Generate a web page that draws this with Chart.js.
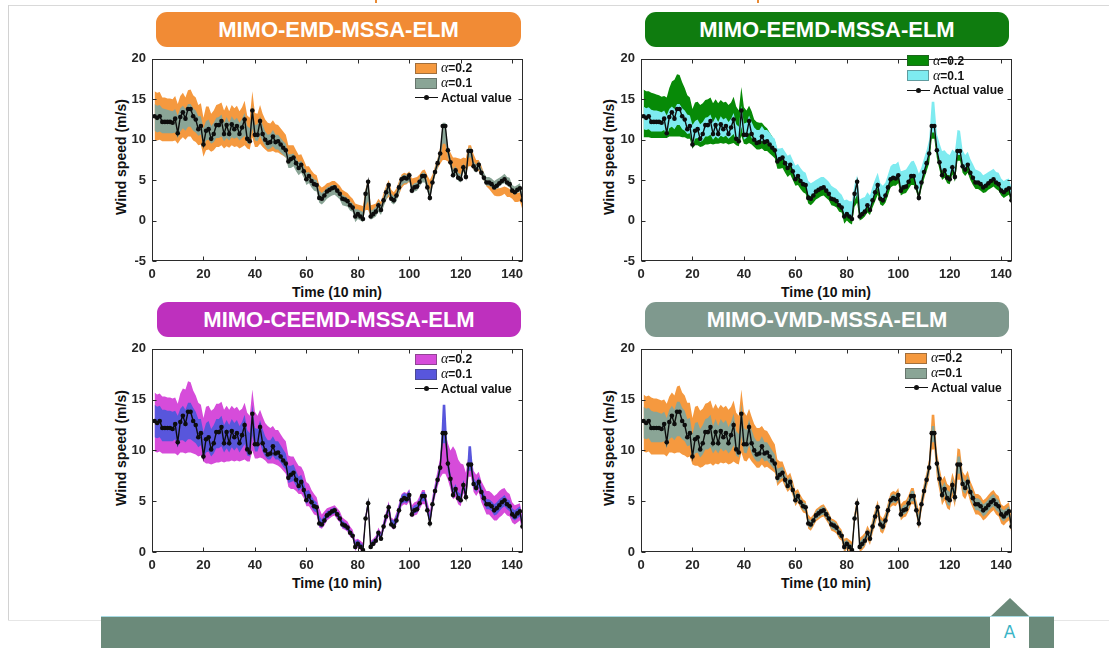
<!DOCTYPE html>
<html>
<head>
<meta charset="utf-8">
<script src="https://cdn.jsdelivr.net/npm/chart.js@4.4.1/dist/chart.umd.min.js"></script>
<style>
  html, body { margin: 0; padding: 0; background: #fff; }
  body { width: 1109px; height: 648px; position: relative; overflow: hidden;
         font-family: "Liberation Sans", Arial, sans-serif; }
  .line { position: absolute; background: #d9d9d9; }
  .banner { position: absolute; height: 35px; border-radius: 11px; color: #fff; font-weight: bold;
            font-size: 22px; line-height: 36px; text-align: center; z-index: 2; }
  canvas { position: absolute; z-index: 1; }
  .ytitle { position: absolute; font-weight: bold; font-size: 14px; color: #111; white-space: nowrap;
            transform: translate(-50%, -50%) rotate(-90deg); }
  .xtitle { position: absolute; font-weight: bold; font-size: 14px; color: #111; white-space: nowrap;
            transform: translate(-50%, -50%); }
  .legend { position: absolute; z-index: 3; }
  .legend .row { position: absolute; left: 0; height: 0; white-space: nowrap; }
  .legend .sw { position: absolute; left: 0; top: -5.5px; width: 22px; height: 11px; box-sizing: border-box;
                border: 1px solid rgba(60,60,60,0.45); }
  .legend .ln { position: absolute; left: 0; top: -0.5px; width: 23px; height: 1.4px; background: #111; }
  .legend .dot { position: absolute; left: 9px; top: -2.5px; width: 5px; height: 5px; border-radius: 50%; background: #111; }
  .legend .lbl { position: absolute; left: 26px; top: -8px; line-height: 16px; font-size: 12px; font-weight: bold; color: #111; }
  .legend .al { font-family: "Liberation Serif", "DejaVu Serif", serif; font-style: italic; font-weight: normal; font-size: 14px; }
  .bar { position: absolute; left: 101px; top: 616px; width: 953px; height: 32px; background: #6b8a7a;
         border-top: 1px solid #a8dbe3; box-sizing: border-box; }
  .tab { position: absolute; left: 990px; top: 617px; width: 39px; height: 31px; background: #fff; color: #3ab4c6;
         font-family: "DejaVu Sans", sans-serif; font-size: 17px; text-align: center; line-height: 31px; }
  .tri { position: absolute; left: 991px; top: 598px; width: 0; height: 0; border-left: 19px solid transparent;
         border-right: 19px solid transparent; border-bottom: 18px solid #6b8a7a; }
  .mark { position: absolute; top: 0; width: 2px; height: 3px; background: #e98a34; }
</style>
</head>
<body>
<div class="line" style="left:8px;top:5px;width:1101px;height:1px;"></div>
<div class="line" style="left:8px;top:5px;width:1px;height:616px;background:#d2d2d2;"></div>
<div class="line" style="left:8px;top:620px;width:1101px;height:1px;background:#e6e6e6;"></div>
<div class="mark" style="left:375px;"></div>
<div class="mark" style="left:757px;"></div>

<div class="banner" style="left:156px;top:12px;width:365px;background:#f18b35;">MIMO-EMD-MSSA-ELM</div>
<div class="banner" style="left:645px;top:12px;width:364px;background:#0f7c0f;">MIMO-EEMD-MSSA-ELM</div>
<div class="banner" style="left:157px;top:302px;width:364px;background:#be30be;">MIMO-CEEMD-MSSA-ELM</div>
<div class="banner" style="left:645px;top:302px;width:364px;background:#7f998e;">MIMO-VMD-MSSA-ELM</div>

<canvas id="c1" width="430" height="260" style="left:100px;top:45px;"></canvas>
<canvas id="c2" width="430" height="260" style="left:588.5px;top:45px;"></canvas>
<canvas id="c3" width="430" height="261" style="left:100px;top:335px;"></canvas>
<canvas id="c4" width="430" height="261" style="left:588.5px;top:335px;"></canvas>

<div class="ytitle" style="left:121px;top:157px;">Wind speed (m/s)</div>
<div class="ytitle" style="left:609px;top:157px;">Wind speed (m/s)</div>
<div class="ytitle" style="left:121px;top:448px;">Wind speed (m/s)</div>
<div class="ytitle" style="left:609px;top:448px;">Wind speed (m/s)</div>
<div class="xtitle" style="left:337px;top:292px;">Time (10 min)</div>
<div class="xtitle" style="left:826px;top:292px;">Time (10 min)</div>
<div class="xtitle" style="left:337px;top:583px;">Time (10 min)</div>
<div class="xtitle" style="left:826px;top:583px;">Time (10 min)</div>

<div class="bar"></div>
<div class="tri"></div>
<div class="tab">A</div>

<script>
// Measured wind speed, one value every 10 minutes (144 steps)
const actual = [
  12.9, 12.7, 12.9, 12.2, 12.2, 12.2, 12.2, 12.1, 12.6, 10.8,
  12.8, 13.4, 12.6, 13.8, 13.8, 12.9, 12.5, 11.3, 11.7, 9.4,
  11.1, 11.3, 10.1, 10.7, 11.8, 11.8, 12.3, 10.7, 11.8, 10.7,
  11.9, 11.3, 11.7, 10.7, 11.5, 12.5, 10.1, 9.8, 13.6, 10.6,
  10.6, 12.3, 10.7, 10.0, 9.6, 9.7, 10.4, 9.7, 9.8, 9.4,
  9.0, 8.7, 7.3, 7.6, 7.8, 7.1, 6.5, 6.9, 6.1, 5.1,
  5.5, 4.9, 4.5, 4.4, 2.8, 2.7, 3.1, 3.6, 3.8, 4.0,
  4.1, 3.7, 3.3, 2.7, 2.6, 2.4, 1.9, 1.6, 0.5, 0.8,
  0.5, 0.2, 3.3, 4.8, 0.5, 0.8, 1.1, 1.9, 1.3, 2.5,
  3.5, 4.4, 2.7, 2.5, 3.1, 4.1, 5.1, 5.3, 5.2, 5.6,
  3.7, 4.1, 4.2, 4.8, 5.5, 5.5, 4.1, 2.8, 4.7, 6.0,
  7.1, 8.3, 11.7, 11.7, 8.7, 7.2, 5.6, 6.2, 5.3, 5.1,
  6.6, 5.4, 8.6, 8.6, 6.7, 6.3, 6.9, 5.9, 5.3, 4.7,
  4.7, 4.5, 4.1, 4.3, 4.6, 4.9, 5.1, 4.7, 4.5, 3.7,
  3.5, 3.8, 4.0, 2.5
];
const timeTicks = [0, 20, 40, 60, 80, 100, 120, 140];
const speedTicksTop = [-5, 0, 5, 10, 15, 20];
const speedTicksBottom = [0, 5, 10, 15, 20];

// Interval bounds, stored as distance above (Hi) and below (Lo) the measured value.
// MIMO-EMD-MSSA-ELM
const emdA2Hi = [
  3.1,3.1,3.0,3.0,3.0,2.9,2.9,2.9,2.8,3.6,
  2.6,2.4,2.6,2.3,2.4,2.6,2.7,3.0,2.8,3.3,
  3.0,2.8,3.1,2.9,2.5,2.6,2.3,2.9,2.5,2.8,2.4,2.6,2.5,2.8,2.5,2.3,2.9,2.9,2.4,2.7,
  2.6,2.0,2.5,2.5,2.5,2.3,2.0,2.2,2.0,2.0,2.0,1.9,
  2.0,1.7,1.5,1.6,1.6,1.3,1.4,1.6,1.2,1.3,1.3,1.2,1.6,
  1.4,1.2,1.0,0.9,0.9,0.8,0.9,1.0,1.1,1.0,1.0,1.1,1.1,1.6,1.2,1.4,1.6,
  0.6,0.3,1.4,1.2,1.0,0.8,1.0,0.9,0.8,0.6,1.1,1.0,0.9,0.8,0.6,0.6,0.6,0.5,
  1.5,1.2,1.2,0.9,0.7,0.8,1.5,2.2,1.0,0.7,0.6,0.7,
  -1.7,-1.7,
  0.4,1.2,2.2,1.6,2.4,2.5,1.2,2.3,0.7,0.7,1.5,
  1.2,0.6,0.9,0.6,0.0,-0.2,-0.3,0.0,-0.3,-0.6,-0.8,-0.9,-0.6,-0.6,0.0,0.0,-0.4,-0.5,0.3
];
const emdA2Lo = [
  2.9,2.8,2.9,2.4,2.4,2.4,2.4,2.3,2.7,1.3,
  2.8,3.1,2.6,3.4,3.4,3.0,2.8,2.0,2.3,1.5,
  2.4,2.5,1.6,2.0,2.7,2.7,3.0,1.8,2.6,1.7,2.6,2.2,2.5,1.8,2.4,3.2,1.2,1.0,3.3,1.5,
  1.5,2.8,1.6,1.2,1.1,1.2,1.8,1.3,1.4,1.2,1.0,0.9,
  0.5,0.8,0.9,0.5,0.4,0.7,0.5,0.3,0.6,0.4,0.4,0.4,0.2,
  0.2,0.3,0.4,0.4,0.3,0.3,0.2,0.0,0.0,0.2,0.3,0.1,0.2,-0.2,0.2,0.0,-0.3,
  2.0,3.5,0.0,0.2,0.3,0.6,0.2,0.6,0.9,1.5,0.3,0.3,0.5,0.9,1.1,0.9,0.7,0.8,
  -0.4,0.0,0.1,0.4,0.7,0.6,-0.3,-0.8,0.3,0.5,0.7,1.3,
  4.2,4.2,
  1.4,0.5,-0.3,0.2,-0.5,-0.6,0.6,-0.4,1.9,1.9,0.4,
  0.1,0.8,0.3,0.4,0.5,0.8,1.0,1.0,1.3,1.6,1.8,1.8,1.8,1.6,1.0,1.2,1.5,1.6,1.2
];
const emdA1Hi = [
  1.5,1.5,1.4,1.7,1.6,1.5,1.4,1.4,1.2,2.2,
  1.1,0.8,1.2,0.6,0.6,1.0,1.1,1.6,1.2,2.0,
  1.2,1.2,1.6,1.4,0.9,1.0,0.8,1.4,1.0,1.4,1.0,1.1,1.0,1.4,1.1,0.8,1.6,1.6,0.7,1.2,
  1.3,0.6,1.1,1.0,1.0,1.0,0.8,0.9,0.8,0.8,0.8,0.8,
  0.9,0.6,0.5,0.6,0.7,0.5,0.6,0.8,0.5,0.6,0.6,0.6,0.9,
  0.7,0.6,0.5,0.4,0.4,0.3,0.4,0.4,0.5,0.4,0.4,0.5,0.5,0.9,0.6,0.7,0.9,
  0.5,0.3,0.7,0.6,0.6,0.5,0.6,0.5,0.5,0.4,0.6,0.5,0.5,0.5,0.4,0.4,0.4,0.4,
  0.6,0.5,0.5,0.5,0.4,0.4,0.7,0.9,0.5,0.5,0.5,0.5,
  0.4,0.4,
  0.5,0.5,0.7,0.5,0.6,0.6,0.5,0.8,0.4,0.4,0.6,
  0.6,0.5,0.6,0.6,0.7,0.7,0.7,0.8,0.8,0.7,0.6,0.7,0.7,0.8,0.7,0.7,0.6,0.6,0.8
];
const emdA1Lo = [
  1.8,1.8,1.9,1.4,1.4,1.4,1.4,1.3,1.7,0.6,
  1.8,2.0,1.5,2.2,2.2,1.8,1.6,0.8,1.1,0.5,
  1.2,1.3,0.6,1.0,1.6,1.6,1.9,0.9,1.6,0.8,1.6,1.2,1.4,0.8,1.3,2.0,0.5,0.4,2.2,0.7,
  0.8,1.8,0.9,0.8,0.8,0.8,1.2,0.9,1.0,1.0,0.9,0.9,
  0.8,1.1,1.1,1.0,0.9,1.0,0.8,0.7,0.9,0.8,0.8,0.8,0.6,
  0.7,0.8,0.9,0.9,0.9,0.9,0.8,0.7,0.8,0.8,0.7,0.7,0.5,0.7,0.6,0.5,0.4,
  1.5,2.4,0.4,0.5,0.6,0.8,0.6,0.8,1.0,1.1,0.5,0.5,0.7,0.8,0.8,0.7,0.6,0.7,
  0.4,0.5,0.5,0.6,0.8,0.8,0.4,0.3,0.5,0.5,0.6,0.8,
  2.2,2.2,
  0.8,0.6,0.4,0.5,0.4,0.4,0.5,0.4,0.8,0.8,0.5,
  0.4,0.5,0.4,0.4,0.4,0.4,0.4,0.3,0.4,0.4,0.4,0.5,0.4,0.4,0.3,0.3,0.4,0.4,0.3
];

// MIMO-EEMD-MSSA-ELM
const eemdA2Hi = [
  3.3,3.3,3.1,3.6,3.5,3.4,3.3,3.2,2.8,4.4,
  3.6,3.8,4.8,4.3,4.2,4.2,3.9,4.2,3.5,4.4,
  3.5,3.4,4.2,3.8,3.1,3.2,2.9,3.8,3.2,3.8,3.0,3.3,3.0,3.6,3.1,2.8,4.0,3.8,2.9,3.4,
  3.0,1.9,2.8,2.5,2.6,2.4,1.7,2.0,1.6,1.5,1.4,1.2,
  1.4,0.8,0.6,0.7,0.8,0.3,0.4,0.6,0.1,0.3,0.3,0.2,0.6,
  0.4,0.2,0.2,0.2,0.1,0.0,0.1,0.2,0.2,0.1,0.1,0.2,0.3,0.4,0.2,0.3,0.4,
  0.2,0.0,0.4,0.4,0.3,0.1,0.3,0.2,0.1,0.0,0.3,0.2,0.1,0.0,0.0,0.0,0.0,0.0,
  0.3,0.2,0.2,0.1,0.0,0.0,0.4,0.6,0.1,0.0,0.0,0.1,
  0.2,0.2,
  0.0,0.2,0.5,0.2,0.4,0.5,0.2,0.6,0.0,0.0,0.2,
  0.1,0.0,0.2,0.2,0.2,0.2,0.1,0.2,0.1,0.0,0.0,0.0,0.1,0.1,0.3,0.2,0.1,0.0,0.3
];
const eemdA2Lo = [
  2.6,2.4,2.6,2.0,2.0,2.0,2.0,1.9,2.4,0.6,
  2.4,3.0,2.2,3.4,3.4,2.6,2.2,1.2,1.6,0.5,
  1.8,2.0,1.0,1.5,2.4,2.4,2.8,1.3,2.3,1.2,2.3,1.8,2.1,1.3,2.0,2.9,0.8,0.6,3.1,1.1,
  1.2,2.7,1.3,0.9,0.8,0.9,1.5,1.1,1.2,1.1,1.0,1.0,
  0.9,1.2,1.3,1.2,1.1,1.2,1.1,0.8,1.1,1.0,1.0,1.1,0.7,
  0.8,0.9,1.0,1.0,1.0,1.0,0.9,0.8,0.8,0.8,0.8,0.8,0.6,0.9,0.8,0.8,0.7,
  1.6,2.6,0.5,0.6,0.6,0.9,0.6,0.9,1.1,1.2,0.7,0.7,0.9,1.0,1.0,1.0,0.9,1.0,
  0.6,0.8,0.8,0.9,1.1,1.1,0.5,0.3,0.8,0.9,1.0,1.2,
  1.6,1.6,
  1.0,0.9,0.6,0.9,0.7,0.6,0.9,0.6,1.2,1.2,0.8,
  0.8,1.0,0.9,0.9,0.8,0.8,0.8,0.7,0.8,0.8,0.9,0.9,0.8,0.8,0.6,0.7,0.8,0.8,0.5
];
const eemdA1Hi = [
  1.2,1.2,1.1,1.5,1.4,1.4,1.3,1.3,1.0,2.2,
  1.0,0.7,1.2,0.6,0.6,1.0,1.1,1.8,1.3,2.4,
  1.2,1.2,1.8,1.5,0.9,1.0,0.8,1.5,1.0,1.5,1.0,1.2,1.0,1.5,1.1,0.8,1.8,1.8,0.6,1.4,
  1.5,0.7,1.5,1.5,1.6,1.5,1.3,1.5,1.4,1.5,1.4,1.4,
  1.6,1.3,1.2,1.4,1.5,1.3,1.4,1.7,1.5,1.6,1.6,1.5,2.1,
  1.9,1.7,1.4,1.4,1.4,1.3,1.4,1.5,1.6,1.5,1.5,1.6,1.6,2.0,1.8,1.9,2.2,
  1.2,0.8,2.1,2.0,1.8,1.6,1.8,1.7,1.6,1.5,1.9,1.8,1.6,1.6,1.6,1.7,1.8,1.7,
  2.4,2.1,2.1,2.0,1.8,1.9,2.6,3.0,1.9,1.7,1.6,1.7,
  3.0,3.0,
  2.0,2.4,3.0,2.5,3.0,3.0,2.2,3.1,2.6,2.5,2.0,
  1.8,1.6,1.7,1.7,1.6,1.5,1.5,1.5,1.5,1.4,1.3,1.3,1.3,1.4,1.5,1.4,1.3,1.2,1.5
];
const eemdA1Lo = [
  1.6,1.5,1.6,1.2,1.2,1.2,1.2,1.1,1.4,0.4,
  1.4,1.8,1.3,2.0,2.0,1.6,1.4,0.6,0.9,0.2,
  1.0,1.1,0.4,0.8,1.4,1.4,1.7,0.7,1.4,0.6,1.4,1.0,1.2,0.6,1.1,1.8,0.3,0.2,2.0,0.6,
  0.4,1.4,0.5,0.2,0.1,0.1,0.5,0.1,0.2,0.1,0.0,0.0,
  -0.3,0.0,0.1,0.0,-0.1,0.1,0.0,-0.2,0.0,-0.1,-0.1,0.0,-0.4,
  -0.3,-0.2,0.0,0.0,0.0,0.0,0.0,-0.1,-0.2,-0.1,-0.1,-0.2,-0.3,-0.2,-0.2,-0.2,-0.3,
  0.8,1.6,-0.4,-0.3,-0.2,0.0,-0.2,0.0,0.2,0.4,-0.1,-0.1,0.0,0.1,0.1,0.1,0.0,0.1,
  -0.4,-0.2,-0.2,-0.1,0.1,0.1,-0.5,-0.8,-0.1,0.0,0.1,0.3,
  0.8,0.8,
  0.2,0.0,-0.6,-0.1,-0.4,-0.5,0.2,-0.5,0.5,0.5,0.0,
  0.0,0.1,0.0,0.0,0.0,0.0,0.0,-0.1,0.0,0.0,0.0,0.1,0.0,0.0,-0.2,-0.1,0.0,0.0,-0.3
];

// MIMO-CEEMD-MSSA-ELM
const ceemdA2Hi = [
  2.8,2.8,2.7,3.1,3.1,3.0,3.0,3.0,2.6,3.8,
  2.8,2.7,3.4,3.0,2.9,3.0,2.9,3.4,2.8,3.8,
  3.2,3.1,3.8,3.4,2.8,2.8,2.5,3.3,2.6,3.3,2.5,2.8,2.6,3.2,2.6,2.2,3.6,3.6,2.4,3.2,
  2.8,1.7,2.6,2.7,2.8,2.5,2.0,2.3,2.2,2.2,2.2,2.2,
  2.2,1.8,1.6,1.8,2.0,1.5,1.8,1.8,1.2,1.2,1.2,1.0,1.5,
  1.0,0.9,0.7,0.6,0.5,0.5,0.6,0.7,0.7,0.6,0.6,0.6,0.6,0.7,0.5,0.6,0.7,
  0.4,0.3,0.6,0.5,0.5,0.5,0.6,0.6,0.5,0.6,0.7,0.7,0.8,0.7,0.6,0.6,0.6,0.6,
  0.9,0.8,0.8,0.7,0.6,0.6,0.9,1.2,0.8,0.8,0.9,1.0,
  0.1,0.1,
  2.0,2.8,4.8,3.8,3.8,3.6,2.0,2.4,0.9,0.9,1.3,
  1.3,1.0,1.1,1.2,1.3,1.3,1.3,1.4,1.4,1.4,1.3,1.2,1.2,1.2,1.2,1.1,0.9,0.8,0.9
];
const ceemdA2Lo = [
  3.0,2.9,3.0,2.5,2.5,2.5,2.5,2.4,2.9,1.3,
  3.0,3.6,2.9,4.0,4.0,3.2,2.9,1.9,2.2,0.5,
  2.4,2.6,1.5,2.0,3.0,3.0,3.4,1.9,2.9,1.8,2.9,2.4,2.7,1.8,2.5,3.4,1.2,0.9,3.6,1.4,
  1.4,3.0,1.5,1.0,0.9,1.0,1.7,1.1,1.3,1.1,1.0,1.0,
  0.9,1.4,1.6,1.1,0.8,1.2,0.8,0.6,1.0,0.8,0.8,0.8,0.4,
  0.4,0.5,0.5,0.5,0.5,0.5,0.5,0.4,0.4,0.4,0.4,0.4,0.3,0.4,0.3,0.3,0.2,
  0.3,0.6,0.1,0.2,0.3,0.4,0.2,0.4,0.6,0.8,0.3,0.3,0.4,0.6,0.6,0.6,0.6,0.6,
  0.3,0.5,0.5,0.6,0.8,0.8,0.3,0.2,0.5,0.6,0.7,1.0,
  4.0,4.0,
  1.6,1.0,0.4,0.8,0.6,0.6,0.8,0.3,1.2,1.2,0.8,
  0.8,1.0,1.0,1.0,1.0,1.0,1.1,1.0,1.2,1.2,1.3,1.2,1.1,1.0,0.8,0.8,0.9,0.9,0.6
];
const ceemdA1Hi = [
  1.6,1.6,1.5,1.8,1.8,1.7,1.7,1.7,1.3,2.6,
  1.3,1.0,1.4,0.9,0.9,1.3,1.3,1.8,1.4,2.4,
  1.6,1.6,2.0,1.8,1.3,1.3,1.1,1.8,1.2,1.8,1.2,1.4,1.3,1.7,1.3,1.0,1.9,1.9,0.9,1.6,
  1.5,0.7,1.4,1.4,1.4,1.3,1.0,1.2,1.1,1.1,1.1,1.0,
  1.2,0.9,0.8,0.9,0.9,0.7,0.8,0.9,0.6,0.6,0.6,0.5,0.8,
  0.5,0.5,0.4,0.3,0.3,0.3,0.3,0.4,0.4,0.3,0.3,0.3,0.3,0.5,0.4,0.4,0.5,
  0.3,0.5,0.4,0.4,0.3,0.3,0.4,0.4,0.3,0.4,0.5,0.6,0.6,0.5,0.5,0.5,0.5,0.5,
  0.6,0.5,0.5,0.5,0.4,0.4,0.6,0.8,0.5,0.5,0.5,0.6,
  2.8,2.8,
  0.6,0.5,0.6,0.5,0.6,0.6,0.5,0.7,1.8,1.8,0.6,
  0.6,0.5,0.6,0.5,0.5,0.5,0.5,0.6,0.6,0.6,0.5,0.5,0.5,0.6,0.6,0.6,0.5,0.5,0.6
];
const ceemdA1Lo = [
  1.6,1.5,1.6,1.3,1.3,1.3,1.3,1.2,1.5,0.5,
  1.8,2.4,1.8,2.7,2.7,2.0,1.8,1.0,1.2,0.3,
  1.3,1.4,0.7,1.0,1.6,1.6,1.9,0.9,1.6,0.9,1.6,1.3,1.4,0.9,1.3,1.9,0.6,0.4,2.1,0.7,
  0.7,1.6,0.8,0.6,0.5,0.6,0.9,0.6,0.7,0.6,0.6,0.6,
  0.5,0.7,0.8,0.6,0.5,0.6,0.5,0.4,0.5,0.5,0.5,0.5,0.3,
  0.3,0.3,0.3,0.3,0.3,0.3,0.3,0.3,0.3,0.3,0.3,0.3,0.2,0.3,0.2,0.2,0.2,
  0.2,0.4,0.1,0.2,0.2,0.3,0.2,0.3,0.4,0.5,0.2,0.2,0.3,0.4,0.4,0.4,0.4,0.4,
  0.2,0.3,0.3,0.4,0.5,0.5,0.2,0.2,0.3,0.4,0.4,0.6,
  1.0,1.0,
  0.8,0.5,0.3,0.4,0.3,0.3,0.4,0.3,0.6,0.6,0.4,
  0.4,0.5,0.5,0.5,0.5,0.5,0.5,0.5,0.6,0.6,0.6,0.6,0.5,0.5,0.4,0.4,0.5,0.5,0.3
];

// MIMO-VMD-MSSA-ELM
const vmdA2Hi = [
  2.6,2.6,2.5,3.0,2.9,2.9,2.8,2.8,2.4,3.8,
  2.5,2.3,2.8,2.5,2.6,2.8,2.9,3.4,3.0,3.8,
  3.2,3.1,3.8,3.4,2.8,2.9,2.6,3.4,2.8,3.4,2.6,2.9,2.7,3.3,2.8,2.4,3.6,3.6,2.4,3.2,
  2.8,1.8,2.6,2.6,2.6,2.5,2.0,2.3,2.1,2.1,2.0,1.9,
  1.8,1.3,1.1,1.1,1.0,0.9,0.9,0.9,0.7,0.7,0.7,0.6,0.9,
  0.7,0.6,0.6,0.6,0.6,0.6,0.6,0.6,0.6,0.6,0.6,0.6,0.6,0.8,0.6,0.7,0.8,
  0.6,0.5,0.9,0.8,0.8,0.7,0.8,0.8,0.7,0.7,0.9,0.8,0.8,0.8,0.7,0.7,0.7,0.7,
  1.0,0.9,0.9,0.8,0.8,0.8,1.0,1.3,0.8,0.8,0.8,0.9,
  1.8,1.8,
  1.2,1.2,1.5,1.3,1.4,1.4,1.2,1.6,1.6,1.5,1.2,
  1.2,1.1,1.1,1.1,1.0,1.0,1.0,1.0,1.0,1.0,1.0,1.0,1.0,1.0,1.0,1.0,0.9,0.9,0.9
];
const vmdA2Lo = [
  3.0,2.9,3.0,2.6,2.6,2.6,2.6,2.5,3.0,1.4,
  3.0,3.6,2.9,4.0,4.0,3.3,3.0,2.0,2.3,0.8,
  2.6,2.8,1.8,2.3,3.2,3.2,3.6,2.2,3.1,2.1,3.1,2.6,2.9,2.1,2.8,3.6,1.4,1.2,3.8,1.6,
  1.7,3.0,1.8,1.4,1.3,1.4,1.8,1.4,1.4,1.2,1.0,0.9,
  0.8,0.8,0.8,0.7,0.6,0.7,0.6,0.6,0.6,0.6,0.6,0.6,0.5,
  0.6,0.6,0.6,0.6,0.6,0.6,0.6,0.6,0.6,0.6,0.6,0.6,0.5,0.6,0.5,0.5,0.4,
  0.5,0.8,0.5,0.6,0.6,0.7,0.6,0.7,0.8,0.8,0.7,0.7,0.7,0.7,0.7,0.7,0.7,0.7,
  0.6,0.7,0.7,0.8,0.8,0.8,0.5,0.5,0.7,0.8,0.8,1.0,
  1.6,1.6,
  1.4,1.2,1.0,1.1,1.0,1.0,1.1,1.0,1.5,1.5,1.2,
  1.1,1.1,1.0,1.0,1.0,1.0,1.0,1.0,1.0,1.0,1.0,1.0,1.0,1.0,0.9,0.9,0.9,0.9,0.7
];
const vmdA1Hi = [
  1.4,1.4,1.3,1.7,1.6,1.6,1.5,1.5,1.2,2.4,
  1.2,1.0,1.4,1.0,1.0,1.3,1.4,1.8,1.5,2.2,
  1.6,1.5,2.0,1.8,1.3,1.4,1.2,1.7,1.3,1.7,1.2,1.4,1.3,1.6,1.3,1.1,1.8,1.8,1.0,1.6,
  1.4,0.8,1.3,1.3,1.3,1.2,1.0,1.1,1.0,1.0,1.0,0.9,
  0.9,0.7,0.6,0.6,0.6,0.5,0.5,0.5,0.4,0.4,0.4,0.4,0.5,
  0.4,0.4,0.4,0.4,0.4,0.4,0.4,0.4,0.4,0.4,0.4,0.4,0.4,0.5,0.4,0.4,0.5,
  0.4,0.3,0.5,0.5,0.5,0.4,0.5,0.5,0.4,0.4,0.5,0.5,0.5,0.5,0.4,0.4,0.4,0.4,
  0.5,0.5,0.5,0.5,0.5,0.5,0.6,0.8,0.5,0.5,0.5,0.5,
  0.7,0.7,
  0.7,0.7,0.8,0.7,0.8,0.8,0.7,0.9,0.8,0.8,0.7,
  0.6,0.6,0.6,0.6,0.6,0.6,0.6,0.6,0.6,0.6,0.6,0.6,0.6,0.6,0.6,0.6,0.5,0.5,0.5
];
const vmdA1Lo = [
  1.7,1.6,1.7,1.4,1.4,1.4,1.4,1.3,1.7,0.6,
  1.7,2.1,1.6,2.4,2.4,1.8,1.6,0.9,1.2,0.4,
  1.4,1.5,0.8,1.1,1.7,1.7,2.0,1.0,1.7,1.0,1.7,1.4,1.6,1.0,1.5,2.0,0.6,0.5,2.2,0.8,
  0.9,1.8,1.0,0.8,0.7,0.8,1.1,0.8,0.8,0.7,0.6,0.6,
  0.5,0.5,0.5,0.4,0.4,0.4,0.4,0.4,0.4,0.4,0.4,0.4,0.3,
  0.4,0.4,0.4,0.4,0.4,0.4,0.4,0.4,0.4,0.4,0.4,0.4,0.3,0.4,0.3,0.3,0.3,
  0.3,0.5,0.3,0.4,0.4,0.4,0.4,0.4,0.5,0.5,0.4,0.4,0.4,0.4,0.4,0.4,0.4,0.4,
  0.4,0.4,0.4,0.5,0.5,0.5,0.3,0.3,0.4,0.5,0.5,0.6,
  0.9,0.9,
  0.8,0.7,0.6,0.6,0.6,0.6,0.6,0.6,0.9,0.9,0.7,
  0.6,0.6,0.6,0.6,0.6,0.6,0.6,0.6,0.6,0.6,0.6,0.6,0.6,0.6,0.5,0.5,0.5,0.5,0.4
];

const FONT = '"Liberation Sans", Arial, sans-serif';
Chart.defaults.font.family = FONT;

const timeIndex = actual.map((_, i) => i + 1);
const toPoints = (vals) => vals.map((v, i) => ({ x: timeIndex[i], y: v }));
const bound = (off, sign) => actual.map((v, i) => Math.round((v + sign * off[i]) * 100) / 100);

// Frame with inward ticks on all four sides
const boxAxes = {
  id: 'boxAxes',
  afterDraw(chart) {
    const { ctx, chartArea: a, scales: { x, y } } = chart;
    const L = 4;
    ctx.save();
    ctx.strokeStyle = '#2b2b2b';
    ctx.lineWidth = 1;
    const l = Math.round(a.left) + 0.5, r = Math.round(a.right) - 0.5;
    const t = Math.round(a.top) + 0.5, b = Math.round(a.bottom) - 0.5;
    ctx.strokeRect(l, t, r - l, b - t);
    ctx.beginPath();
    x.ticks.forEach(tk => {
      const px = Math.round(x.getPixelForValue(tk.value)) + 0.5;
      ctx.moveTo(px, b); ctx.lineTo(px, b - L);
      ctx.moveTo(px, t); ctx.lineTo(px, t + L);
    });
    y.ticks.forEach(tk => {
      const py = Math.round(y.getPixelForValue(tk.value)) + 0.5;
      ctx.moveTo(l, py); ctx.lineTo(l + L, py);
      ctx.moveTo(r, py); ctx.lineTo(r - L, py);
    });
    ctx.stroke();
    ctx.restore();
  }
};

function drawPanel(id, a2Hi, a2Lo, a1Hi, a1Lo, color2, color1, yMin, yTicks) {
  const tickFont = { family: FONT, size: 13, weight: 'bold' };
  new Chart(document.getElementById(id), {
    type: 'line',
    data: {
      datasets: [
        { data: toPoints(actual), borderColor: '#0d0d0d', borderWidth: 1.4, pointRadius: 2.3,
          pointBackgroundColor: '#0d0d0d', pointBorderWidth: 0, fill: false, tension: 0 },
        { data: toPoints(bound(a1Lo, -1)), borderWidth: 0, borderColor: 'rgba(0,0,0,0)', pointRadius: 0, fill: false },
        { data: toPoints(bound(a1Hi, 1)), borderWidth: 0, borderColor: 'rgba(0,0,0,0)', pointRadius: 0,
          fill: 1, backgroundColor: color1 },
        { data: toPoints(bound(a2Lo, -1)), borderWidth: 0, borderColor: 'rgba(0,0,0,0)', pointRadius: 0, fill: false },
        { data: toPoints(bound(a2Hi, 1)), borderWidth: 0, borderColor: 'rgba(0,0,0,0)', pointRadius: 0,
          fill: 3, backgroundColor: color2 }
      ]
    },
    options: {
      responsive: false,
      animation: false,
      devicePixelRatio: 1,
      layout: { padding: { left: 0, top: 8, right: 7.5, bottom: 8 } },
      plugins: { legend: { display: false }, tooltip: { enabled: false } },
      scales: {
        x: {
          type: 'linear', min: 0, max: 144,
          grid: { display: false, drawTicks: false },
          border: { display: false },
          afterBuildTicks: s => { s.ticks = timeTicks.map(v => ({ value: v })); },
          afterFit: s => { s.height = 36; },
          ticks: { padding: 6, font: tickFont, color: '#262626', maxRotation: 0, autoSkip: false }
        },
        y: {
          type: 'linear', min: yMin, max: 20,
          grid: { display: false, drawTicks: false },
          border: { display: false },
          afterBuildTicks: s => { s.ticks = yTicks.map(v => ({ value: v })); },
          afterFit: s => { s.width = 52; },
          ticks: { padding: 6, font: tickFont, color: '#262626', autoSkip: false }
        }
      }
    },
    plugins: [boxAxes]
  });
}

drawPanel('c1', emdA2Hi, emdA2Lo, emdA1Hi, emdA1Lo, '#f5993f', '#8aa596', -5, speedTicksTop);
drawPanel('c2', eemdA2Hi, eemdA2Lo, eemdA1Hi, eemdA1Lo, '#078a07', '#7eebf0', -5, speedTicksTop);
drawPanel('c3', ceemdA2Hi, ceemdA2Lo, ceemdA1Hi, ceemdA1Lo, '#d64cda', '#5856dc', 0, speedTicksBottom);
drawPanel('c4', vmdA2Hi, vmdA2Lo, vmdA1Hi, vmdA1Lo, '#f5993f', '#8aa596', 0, speedTicksBottom);

// Legends
function addLegend(left, top, color2, color1) {
  const box = document.createElement('div');
  box.className = 'legend';
  box.style.left = left + 'px';
  box.style.top = top + 'px';
  box.innerHTML =
    '<div class="row" style="top:0px"><div class="sw" style="background:' + color2 + '"></div>' +
    '<div class="lbl"><span class="al">α</span>=0.2</div></div>' +
    '<div class="row" style="top:15px"><div class="sw" style="background:' + color1 + '"></div>' +
    '<div class="lbl"><span class="al">α</span>=0.1</div></div>' +
    '<div class="row" style="top:29.5px"><div class="ln"></div><div class="dot"></div>' +
    '<div class="lbl">Actual value</div></div>';
  document.body.appendChild(box);
}
addLegend(415, 68, '#f5993f', '#8aa596');
addLegend(907, 60.5, '#078a07', '#7eebf0');
addLegend(415, 359, '#d64cda', '#5856dc');
addLegend(905, 358, '#f5993f', '#8aa596');
</script>
</body>
</html>
